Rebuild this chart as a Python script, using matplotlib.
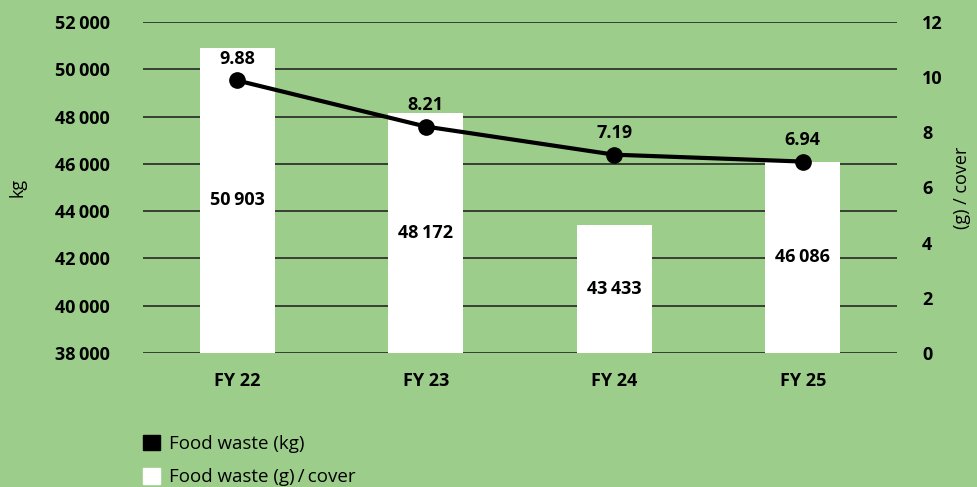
import matplotlib
matplotlib.use("Agg")
import matplotlib.pyplot as plt
from matplotlib.patches import Patch

# données
years = ["FY 22", "FY 23", "FY 24", "FY 25"]
waste_kg = [50903, 48172, 43433, 46086]
waste_g_cover = [9.88, 8.21, 7.19, 6.94]
left_ticks = [38000, 40000, 42000, 44000, 46000, 48000, 50000, 52000]
right_ticks = [0, 2, 4, 6, 8, 10, 12]

bg = "#9ccd8b"
plt.rcParams['font.family'] = ['Open Sans', 'DejaVu Sans']
fs = 13

def fmt(v):
    s = f"{v:,}".replace(",", "\u2009")
    return s

fig = plt.figure(figsize=(9.78, 4.87), dpi=100, facecolor=bg)
ax = fig.add_axes([0.1462, 0.2752, 0.7710, 0.6796])
ax.set_facecolor(bg)
ax2 = ax.twinx()

x = list(range(len(years)))

# barres (kg) sur l'axe gauche
ax.set_axisbelow(True)
ax.yaxis.grid(True, color="#1a1a1a", linewidth=1.1)
bars = ax.bar(x, waste_kg, width=0.4, color="white", zorder=2)
ax.set_ylim(38000, 52000)
ax.set_xlim(-0.5, 3.5)
ax.set_yticks(left_ticks)
ax.set_yticklabels([fmt(t) for t in left_ticks], fontweight="bold", fontsize=fs)
ax.set_xticks(x)
ax.set_xticklabels(years, fontweight="bold", fontsize=fs)
ax.tick_params(axis="x", length=0, pad=14)
ax.tick_params(axis="y", length=0, pad=24)
for s in ax.spines.values():
    s.set_visible(False)
for xi, v in zip(x, waste_kg):
    ax.text(xi, (38000 + v) / 2, fmt(v), ha="center", va="center",
            fontweight="bold", fontsize=fs, zorder=3)
ax.set_ylabel("kg", fontsize=fs, labelpad=20)

# ligne (g/cover) sur l'axe droit
ax2.plot(x, waste_g_cover, color="black", linewidth=3, marker="o", markersize=11, zorder=5)
ax2.set_ylim(0, 12)
ax2.set_yticks(right_ticks)
ax2.set_yticklabels([str(t) for t in right_ticks], fontweight="bold", fontsize=fs)
ax2.tick_params(axis="y", length=0, pad=18)
for s in ax2.spines.values():
    s.set_visible(False)
for xi, v in zip(x, waste_g_cover):
    ax2.annotate(f"{v:.2f}", (xi, v), xytext=(0, 9), textcoords="offset points",
                 ha="center", va="bottom", fontweight="bold", fontsize=fs)
ax2.set_ylabel("(g) / cover", fontsize=fs)
ax2.yaxis.set_label_coords(1.0 + (953 - 897) / 754, 0.5)

# légende
handles = [Patch(facecolor="black", edgecolor="black"),
           Patch(facecolor="white", edgecolor="white")]
fig.legend(handles, ["Food waste (kg)", "Food waste (g)\u2009/\u2009cover"],
           loc="lower left", bbox_to_anchor=(0.129, -0.033), frameon=False,
           fontsize=13.5, handlelength=0.9, handleheight=0.9, labelspacing=0.8,
           handletextpad=0.5)

fig.savefig("out.png", dpi=100, facecolor=bg)
